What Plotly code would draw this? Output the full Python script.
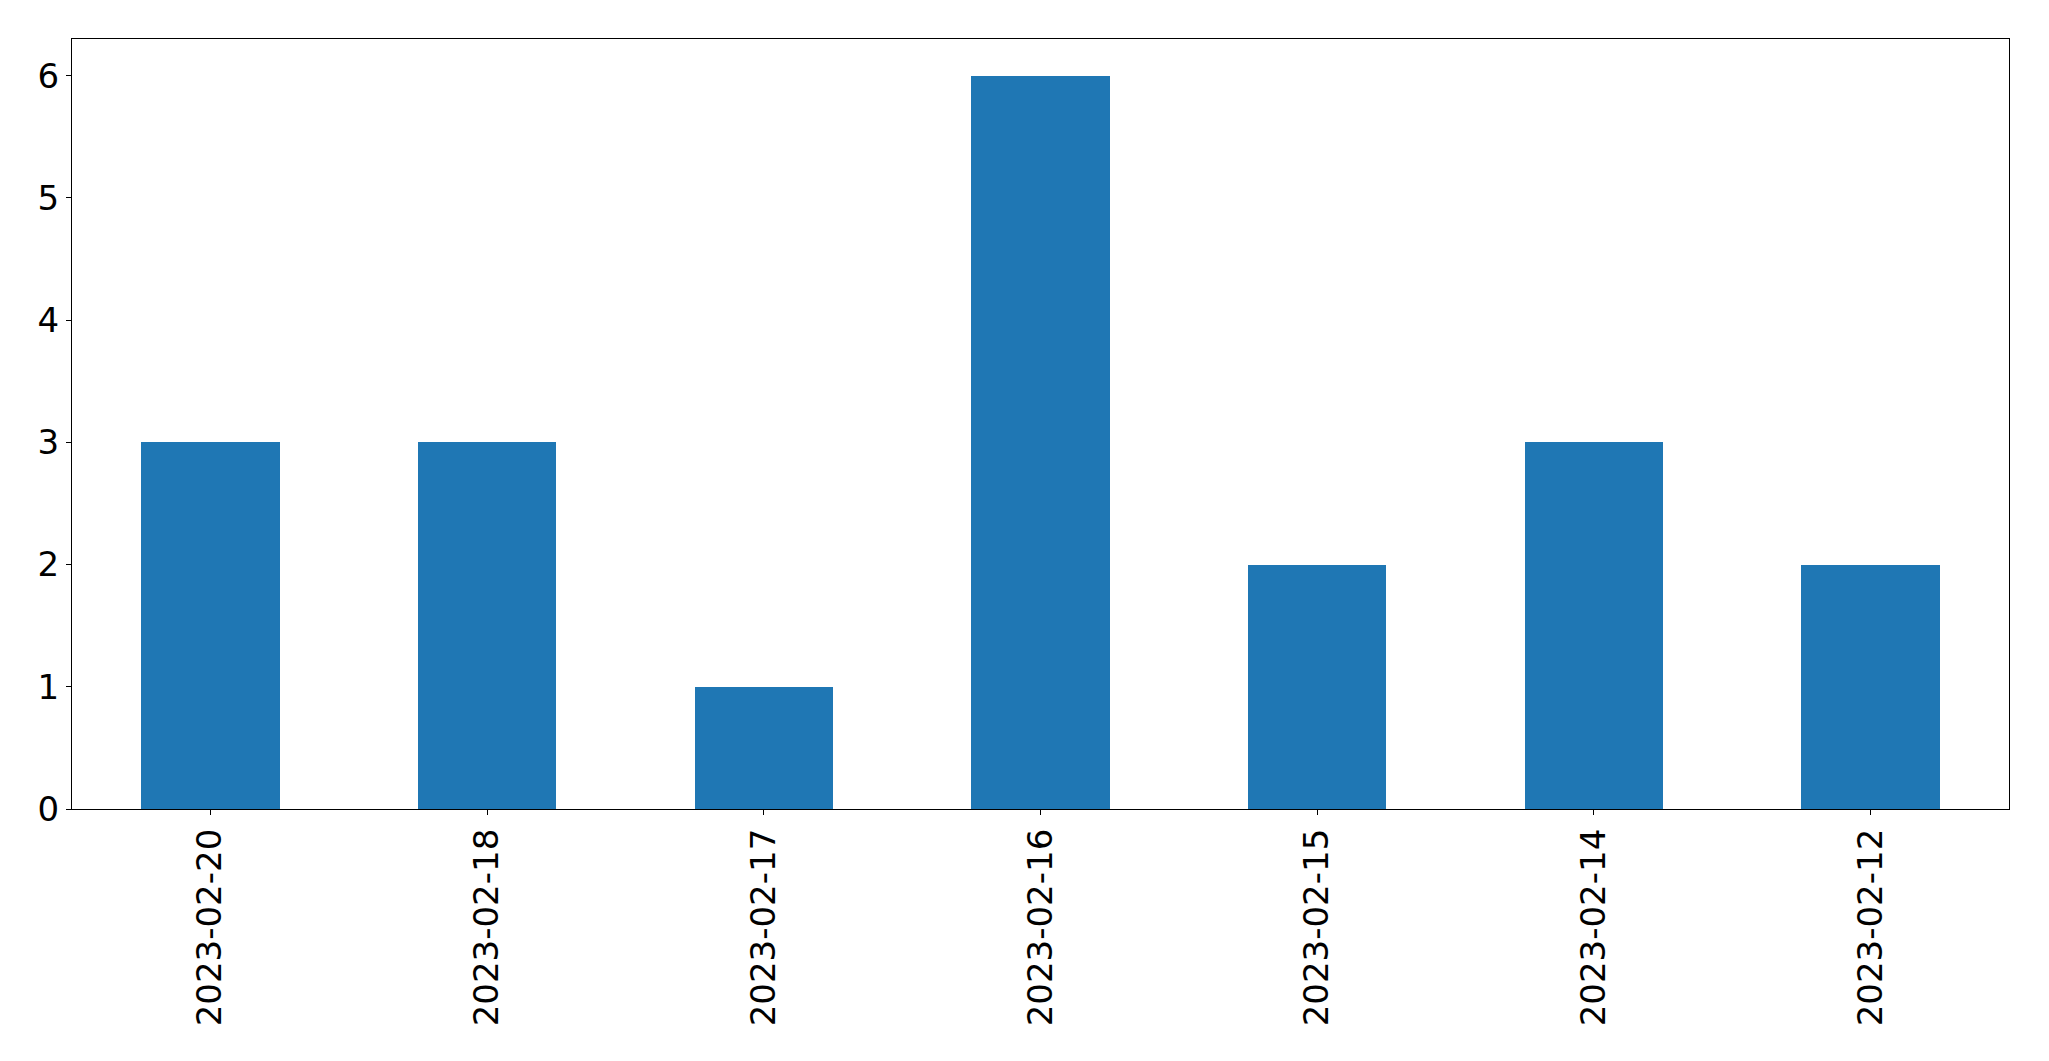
import plotly.graph_objects as go

categories = ["2023-02-20", "2023-02-18", "2023-02-17", "2023-02-16",
              "2023-02-15", "2023-02-14", "2023-02-12"]
values = [3, 3, 1, 6, 2, 3, 2]
y_ticks = [0, 1, 2, 3, 4, 5, 6]

fig = go.Figure(go.Bar(x=list(range(len(categories))), y=values,
                       width=0.5, marker=dict(color="#1f77b4", line=dict(width=0))))

axis_common = dict(showline=True, linecolor="black", linewidth=1.3, mirror=True,
                   ticks="outside", ticklen=5, tickwidth=1.3, tickcolor="black",
                   showgrid=False, zeroline=False,
                   tickfont=dict(family="DejaVu Sans", size=34, color="black"))

fig.update_xaxes(range=[-0.5, len(categories) - 0.5],
                 tickmode="array", tickvals=list(range(len(categories))),
                 ticktext=categories, tickangle=-90, **axis_common)
fig.update_yaxes(range=[0, 6.3], tickmode="array", tickvals=y_ticks,
                 ticktext=[str(v) for v in y_ticks], **axis_common)

fig.update_layout(width=2049, height=1061, plot_bgcolor="white", paper_bgcolor="white",
                  margin=dict(l=72, r=40, t=39, b=252, pad=0, autoexpand=False),
                  showlegend=False, bargap=0)

fig.write_html("out.html", config={"displayModeBar": False},
               post_script="document.body.style.margin='0';document.body.style.overflow='hidden';")
